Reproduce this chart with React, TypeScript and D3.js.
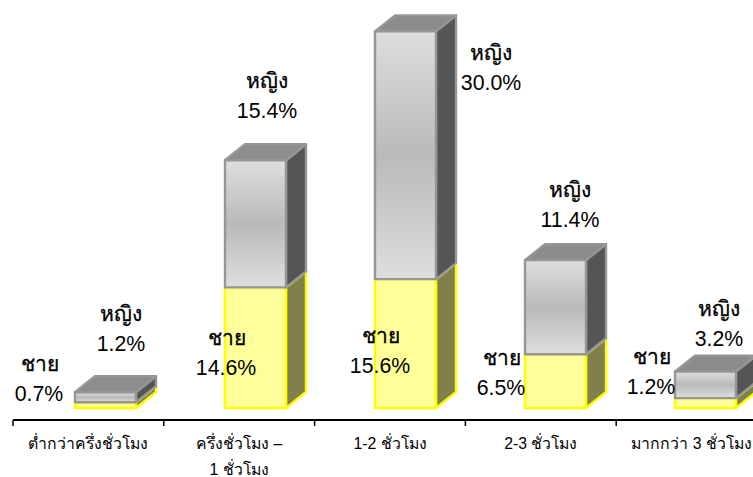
import React from "react";
import * as d3 from "d3";

const categories = [
  ["ต่ำกว่าครึ่งชั่วโมง"],
  ["ครึ่งชั่วโมง –", "1 ชั่วโมง"],
  ["1-2 ชั่วโมง"],
  ["2-3 ชั่วโมง"],
  ["มากกว่า 3 ชั่วโมง"],
];
const maleValues = [0.7, 14.6, 15.6, 6.5, 1.2];
const femaleValues = [1.2, 15.4, 30.0, 11.4, 3.2];
const maleName = "ชาย";
const femaleName = "หญิง";

// Label anchors as [centre x, y of the name line] for each category
const maleLabelPos = [[39, 371], [226, 345], [380, 343], [501, 365], [651, 364]];
const femaleLabelPos = [[121, 321], [267, 87.5], [491, 60], [570, 197], [719, 316]];

const W = 753;
const H = 477;
const DX = 20;
const DY = 16;
const FONT = '"Liberation Sans", Arial, sans-serif';

const x = d3.scaleBand<number>().domain(d3.range(5)).range([13, 767]).paddingInner(0).paddingOuter(0);
const y = d3.scaleLinear().domain([0, 50]).range([408, 408 - 50 * 8.26]);
const barW = 61;

function Block({ cx, y0, y1, front, frontStroke, side, top, edge }: any) {
  const xl = cx - barW / 2;
  const xr = cx + barW / 2;
  const sidePts = [[xr, y1], [xr + DX, y1 - DY], [xr + DX, y0 - DY], [xr, y0]];
  const topPts = [[xl, y1], [xl + DX, y1 - DY], [xr + DX, y1 - DY], [xr, y1]];
  const pts = (p: number[][]) => p.map((q) => q.join(",")).join(" ");
  return (
    <g strokeLinejoin="round">
      <polygon points={pts(sidePts)} fill={side} stroke={edge} strokeWidth={2.4} />
      <polygon points={pts(topPts)} fill={top} stroke={edge} strokeWidth={2.4} />
      <rect x={xl} y={y1} width={barW} height={y0 - y1} fill={front} stroke={frontStroke} strokeWidth={2.4} />
    </g>
  );
}

function Label({ pos, name, value, nameShift }: any) {
  return (
    <g textAnchor="middle" fill="#000" fontFamily={FONT}>
      <text x={pos[0] + nameShift} y={pos[1]} fontSize={21} stroke="#000" strokeWidth={0.3}>{name}</text>
      <text x={pos[0]} y={pos[1] + 30} fontSize={21.3}>{value.toFixed(1)}%</text>
    </g>
  );
}

export default function App() {
  const ticks = d3.range(5).map((i) => x(i)!);
  // Columns sit right of the centre of each band; category text sits at the centre
  const barCentre = (i: number) => 105.5 + i * 150;
  const textCentre = (i: number) => x(i)! + x.bandwidth() / 2;
  return (
    <svg width={W} height={H} viewBox={`0 0 ${W} ${H}`} style={{ position: "absolute", left: 0, top: 0, background: "#fff" }}>
      <defs>
        <linearGradient id="femaleFront" x1="0" y1="0" x2="0" y2="1">
          <stop offset="0" stopColor="#dedede" />
          <stop offset="0.5" stopColor="#bababa" />
          <stop offset="1" stopColor="#dedede" />
        </linearGradient>
      </defs>

      {/* Stacked 3D columns: men at the bottom, women on top */}
      {categories.map((_, i) => {
        const cx = barCentre(i);
        const male = maleValues[i];
        const female = femaleValues[i];
        return (
          <g key={i}>
            <Block cx={cx} y0={y(0)} y1={y(male)} front="#ffff99" frontStroke="#ffff00" side="#80804d" top="#80804d" edge="#ffff00" />
            <Block cx={cx} y0={y(male)} y1={y(male + female)} front="url(#femaleFront)" frontStroke="#969696" side="#555555" top="#8c8c8c" edge="#969696" />
          </g>
        );
      })}

      {/* Category axis */}
      <line x1={ticks[0]} x2={W} y1={420} y2={420} stroke="#000" strokeWidth={2} />
      {ticks.map((t) => (
        <line key={t} x1={t} x2={t} y1={420} y2={426} stroke="#000" strokeWidth={1.5} />
      ))}
      {categories.map((lines, i) => (
        <g key={i} textAnchor="middle" fontFamily={FONT} fontSize={15.8} fill="#000">
          {lines.map((line, j) => (
            <text key={j} x={textCentre(i)} y={449 + j * 26}>{line}</text>
          ))}
        </g>
      ))}

      {/* Value labels */}
      {categories.map((_, i) => (
        <g key={i}>
          <Label pos={maleLabelPos[i]} name={maleName} value={maleValues[i]} nameShift={1} />
          <Label pos={femaleLabelPos[i]} name={femaleName} value={femaleValues[i]} nameShift={0} />
        </g>
      ))}
    </svg>
  );
}
